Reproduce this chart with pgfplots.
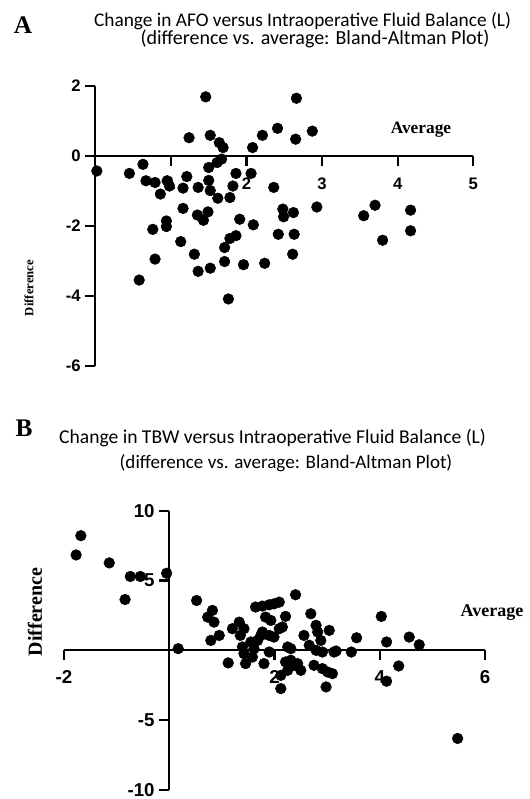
\documentclass[border=0pt]{standalone}
\usepackage{fontspec}
\setmainfont{Liberation Serif}
\newfontfamily\titlefont{Carlito}
\newfontfamily\tickfont{Liberation Sans}
\usepackage{pgfplots}
\usepackage{pgfplotstable}
\pgfplotsset{compat=1.18}
\pgfplotstableread{
x y
0.02 -0.43
0.45 -0.50
0.63 -0.24
0.67 -0.71
0.79 -0.76
0.86 -1.09
0.95 -0.71
0.98 -0.86
0.94 -1.86
0.94 -2.02
0.76 -2.10
0.79 -2.95
0.58 -3.55
1.13 -2.45
1.31 -2.81
1.36 -3.30
1.52 -3.21
1.16 -1.50
1.16 -0.92
1.21 -0.59
1.24 0.52
1.46 1.69
1.52 0.59
1.36 -0.90
1.35 -1.69
1.43 -1.84
1.49 -1.60
1.50 -0.70
1.50 -0.33
1.52 -0.99
1.62 -1.21
1.64 0.38
1.69 0.24
1.61 -0.19
1.67 -0.09
1.78 -1.19
1.82 -0.86
1.86 -0.50
2.06 -0.50
2.08 0.24
2.21 0.59
2.41 0.79
2.66 1.65
2.65 0.48
2.87 0.71
2.36 -0.90
1.91 -1.81
2.09 -1.97
1.71 -2.62
1.78 -2.36
1.86 -2.28
1.71 -3.02
1.76 -4.09
1.96 -3.11
2.24 -3.07
2.42 -2.24
2.48 -1.52
2.49 -1.74
2.62 -1.62
2.63 -2.24
2.61 -2.81
2.93 -1.46
3.55 -1.71
3.70 -1.41
3.80 -2.41
4.17 -1.55
4.17 -2.14
}\dataA
\pgfplotstableread{
x y
-1.77 6.83
-1.68 8.21
-1.14 6.26
-0.84 3.64
-0.74 5.29
-0.55 5.29
-0.05 5.52
0.17 0.12
0.52 3.57
0.82 2.86
0.73 2.38
0.85 2.02
0.79 0.71
0.95 1.07
1.12 -0.90
1.20 1.55
1.33 2.02
1.42 1.55
1.35 1.07
1.39 0.24
1.42 -0.24
1.45 -0.95
1.55 0.60
1.61 0.12
1.68 0.71
1.74 1.07
1.77 1.31
1.58 -0.48
1.64 3.10
1.77 3.17
1.90 3.26
1.99 3.33
2.09 3.45
2.40 3.98
1.83 2.38
1.93 2.14
2.21 2.43
1.90 1.07
1.99 0.95
2.09 1.55
2.15 1.67
1.80 -0.95
1.90 -0.12
2.25 0.24
2.31 0.12
2.21 -0.83
2.31 -0.71
2.37 -1.07
2.44 -0.95
2.50 -1.43
2.25 -1.43
2.12 -1.79
2.12 -2.74
2.56 1.07
2.69 2.62
2.79 1.79
2.82 1.31
2.88 0.71
2.66 0.36
2.79 0.00
2.91 -0.12
3.04 1.43
3.13 -0.12
2.75 -1.07
2.91 -1.31
3.01 -1.55
3.10 -1.67
2.98 -2.62
3.17 -0.05
3.46 -0.12
3.56 0.90
4.03 2.43
4.13 0.60
4.13 -2.21
4.36 -1.12
4.56 0.95
4.75 0.40
5.48 -6.31
}\dataB
\pgfplotsset{
  bastyle/.style={
    scale only axis,
    axis lines=middle,
    axis line style={-, line width=1.6pt, black},
    tick style={line width=1.6pt, black},
    tick align=outside,
    major tick length=7.5pt,
    hide obscured x ticks=false,
    hide obscured y ticks=false,
    /pgf/number format/assume math mode=true,
    clip=false,
  }
}
\begin{document}
\begin{tikzpicture}
\path[use as bounding box] (0pt,0pt) rectangle (396.75pt,-599.25pt);
% Panel A
\node[font=\bfseries\fontsize{19}{21}\selectfont] at (17.25pt,-18.75pt) {A};
\node[anchor=base, font=\titlefont\fontsize{14.5}{16}\selectfont] at (226.9pt,-20pt) {Change in AFO versus Intraoperative Fluid Balance (L)};
\node[anchor=base, font=\titlefont\fontsize{15}{17}\selectfont] at (236.25pt,-33.75pt) {(difference vs. average: Bland-Altman Plot)};
\begin{axis}[bastyle,
  at={(71.5pt,-274.3pt)}, anchor=south west,
  width=283.5pt, height=209.8pt,
  xmin=0, xmax=5, ymin=-6, ymax=2,
  xtick={1,2,3,4,5}, ytick={-6,-4,-2,0,2},
  ticklabel style={font=\tickfont\bfseries\fontsize{12.5}{14}\selectfont},
  xticklabel style={yshift=-5.5pt},
]
\addplot[only marks, mark=*, mark size=4pt, black] table {\dataA};
\end{axis}
\node[rotate=90, font=\bfseries\fontsize{9.5}{11}\selectfont] at (21.75pt,-216pt) {Difference};
\node[font=\bfseries\fontsize{13}{15}\selectfont] at (315.75pt,-97.5pt) {Average};
% Panel B
\node[font=\bfseries\fontsize{19}{21}\selectfont] at (18pt,-321pt) {B};
\node[anchor=base, font=\titlefont\fontsize{14.7}{16}\selectfont] at (204.4pt,-332.25pt) {Change in TBW versus Intraoperative Fluid Balance (L)};
\node[anchor=base, font=\titlefont\fontsize{14.3}{16}\selectfont] at (214.5pt,-351pt) {(difference vs. average: Bland-Altman Plot)};
\begin{axis}[bastyle,
  at={(48pt,-592.5pt)}, anchor=south west,
  width=315.75pt, height=209.5pt,
  xmin=-2, xmax=6, ymin=-10, ymax=10,
  xtick={-2,2,4,6}, ytick={-10,-5,5,10},
  ticklabel style={font=\tickfont\bfseries\fontsize{14}{16}\selectfont},
  xticklabel style={yshift=-4pt},
]
\addplot[only marks, mark=*, mark size=4pt, black] table {\dataB};
\end{axis}
\node[rotate=90, font=\bfseries\fontsize{15}{17}\selectfont] at (26.25pt,-459pt) {Difference};
\node[anchor=east, font=\bfseries\fontsize{13.5}{16}\selectfont] at (396pt,-459.75pt) {Average};
\end{tikzpicture}
\end{document}
